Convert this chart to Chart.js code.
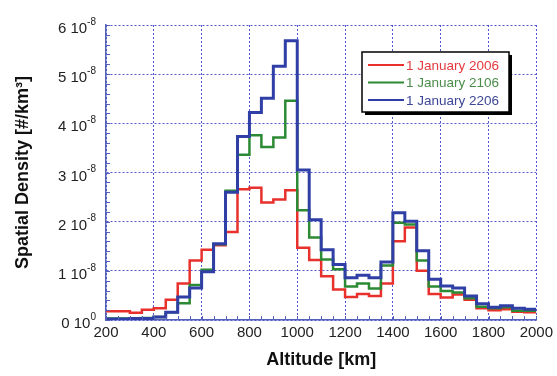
<!DOCTYPE html>
<html>
<head>
<meta charset="utf-8">
<script src="https://cdn.jsdelivr.net/npm/chart.js"></script>
<style>
  html, body { margin: 0; padding: 0; background: #fff; }
  #wrap { width: 557px; height: 376px; }
</style>
</head>
<body>
<div id="wrap"><canvas id="densityChart"></canvas></div>
<script>
// bin edges in km (left edges + final right edge)
const binEdges = [200, 250, 300, 350, 400, 450, 500, 550, 600, 650, 700, 750, 800, 850, 900, 950,
  1000, 1050, 1100, 1150, 1200, 1250, 1300, 1350, 1400, 1450, 1500, 1550, 1600, 1650, 1700,
  1750, 1800, 1850, 1900, 1950, 2000];

// spatial density per bin, in units of 1e-8 #/km^3
const density2006 = [0.18, 0.18, 0.15, 0.21, 0.24, 0.41, 0.74, 1.21, 1.43, 1.52, 1.79, 2.66, 2.69, 2.39, 2.45, 2.64,
  1.47, 1.22, 0.89, 0.62, 0.47, 0.53, 0.49, 0.74, 1.60, 1.88, 1.00, 0.53, 0.46, 0.52, 0.41,
  0.24, 0.20, 0.22, 0.17, 0.16];
const density2106 = [0.03, 0.03, 0.03, 0.04, 0.06, 0.16, 0.34, 0.71, 1.02, 1.54, 2.63, 3.36, 3.76, 3.52, 3.71, 4.46,
  2.23, 1.68, 1.23, 1.03, 0.68, 0.74, 0.64, 1.11, 1.98, 1.94, 1.21, 0.68, 0.59, 0.56, 0.44,
  0.27, 0.24, 0.26, 0.19, 0.19];
const density2206 = [0.02, 0.02, 0.03, 0.03, 0.06, 0.16, 0.47, 0.65, 0.98, 1.55, 2.60, 3.73, 4.22, 4.51, 5.16, 5.68,
  3.05, 2.04, 1.43, 1.13, 0.86, 0.91, 0.86, 1.18, 2.18, 2.01, 1.41, 0.83, 0.69, 0.65, 0.49,
  0.33, 0.26, 0.29, 0.24, 0.22];

// y tick labels: mantissa and exponent
const yTickValues = [0, 1, 2, 3, 4, 5, 6];
const yTickExp = ['0', '-8', '-8', '-8', '-8', '-8', '-8'];

const seriesNames = ['1 January 2006', '1 January 2106', '1 January 2206'];
const lineColors = ['#e8312c', '#2d8a34', '#2f3fa6'];
const textColors = ['#e23a3f', '#4a8c4a', '#3c4796'];

const axisBlue = '#5561b8';
const gridBlue = 'rgba(50, 55, 200, 0.85)';
const fontFam = '"Liberation Sans", Arial, sans-serif';

// histogram outline: each left edge carries its bin value, last edge repeats the last one
function toSteps(values) {
  return binEdges.map((x, i) => ({ x: x, y: values[Math.min(i, values.length - 1)] }));
}

// small inward ticks on the left and bottom axes + y labels with exponents
const axisExtras = {
  id: 'axisExtras',
  afterDraw(chart) {
    const { ctx, chartArea, scales } = chart;
    ctx.save();
    ctx.strokeStyle = axisBlue;
    ctx.lineWidth = 1;
    ctx.beginPath();
    for (let v = 200; v <= 2000; v += 50) {
      const px = Math.round(scales.x.getPixelForValue(v)) + 0.5;
      ctx.moveTo(px, chartArea.bottom);
      ctx.lineTo(px, chartArea.bottom - 4);
    }
    for (let k = 0; k <= 30; k++) {
      const py = Math.round(scales.y.getPixelForValue(k * 0.2)) + 0.5;
      ctx.moveTo(chartArea.left, py);
      ctx.lineTo(chartArea.left + 4, py);
    }
    ctx.stroke();

    const right = chartArea.left - 10;
    ctx.fillStyle = '#222';
    ctx.textAlign = 'right';
    ctx.textBaseline = 'middle';
    yTickValues.forEach((v, i) => {
      const py = scales.y.getPixelForValue(v);
      ctx.font = '10px ' + fontFam;
      const ew = ctx.measureText(yTickExp[i]).width;
      ctx.fillText(yTickExp[i], right, py - 3);
      ctx.font = '15px ' + fontFam;
      ctx.fillText(v + ' 10', right - ew, py + 4);
    });
    ctx.restore();
  }
};

// boxed legend with drop shadow, drawn inside the plot
const boxLegend = {
  id: 'boxLegend',
  afterDraw(chart) {
    const { ctx, chartArea } = chart;
    const x0 = chartArea.left + 256, y0 = chartArea.top + 27;
    const w = 147, h = 60;
    ctx.save();
    ctx.fillStyle = '#000';
    ctx.fillRect(x0 + 3, y0 + 3, w, h);
    ctx.fillStyle = '#fff';
    ctx.fillRect(x0, y0, w, h);
    ctx.strokeStyle = '#000';
    ctx.lineWidth = 1.5;
    ctx.strokeRect(x0, y0, w, h);
    ctx.font = '13.5px ' + fontFam;
    ctx.textBaseline = 'middle';
    seriesNames.forEach((name, i) => {
      const y = y0 + 13 + i * 17.5;
      ctx.strokeStyle = lineColors[i];
      ctx.lineWidth = 2;
      ctx.beginPath();
      ctx.moveTo(x0 + 6, y);
      ctx.lineTo(x0 + 42, y);
      ctx.stroke();
      ctx.fillStyle = textColors[i];
      ctx.fillText(name, x0 + 44, y + 1);
    });
    ctx.restore();
  }
};

const ctx = document.getElementById('densityChart').getContext('2d');

new Chart(ctx, {
  type: 'line',
  data: {
    datasets: [
      { label: seriesNames[0], data: toSteps(density2006), borderColor: lineColors[0], borderWidth: 2.5, order: 2 },
      { label: seriesNames[1], data: toSteps(density2106), borderColor: lineColors[1], borderWidth: 2.5, order: 1 },
      { label: seriesNames[2], data: toSteps(density2206), borderColor: lineColors[2], borderWidth: 3, order: 0 }
    ].map(ds => Object.assign(ds, { stepped: 'before', pointRadius: 0, fill: false, tension: 0 }))
  },
  options: {
    responsive: true,
    maintainAspectRatio: false,
    animation: false,
    layout: { padding: { top: 25, right: 17, left: 0, bottom: 0 } },
    plugins: {
      legend: { display: false },
      tooltip: { enabled: false }
    },
    scales: {
      x: {
        type: 'linear',
        min: 200,
        max: 2000,
        afterFit: s => { s.height = 56; },
        ticks: {
          stepSize: 200,
          color: '#222',
          padding: 4,
          font: { family: fontFam, size: 15 },
          maxRotation: 0,
          callback: v => String(v)
        },
        grid: { color: gridBlue, drawTicks: false, lineWidth: 1 },
        border: { color: axisBlue, width: 1.5, dash: [2, 2] },
        title: {
          display: true,
          text: 'Altitude [km]',
          color: '#111',
          font: { family: fontFam, size: 18, weight: 'bold' },
          padding: { top: 2, bottom: 5 }
        }
      },
      y: {
        min: 0,
        max: 6,
        afterFit: s => { s.width = 106; },
        ticks: { stepSize: 1, display: false },
        grid: { color: gridBlue, drawTicks: false, lineWidth: 1 },
        border: { color: axisBlue, width: 1.5, dash: [2, 2] },
        title: {
          display: true,
          text: 'Spatial Density [#/km³]',
          color: '#111',
          font: { family: fontFam, size: 18, weight: 'bold' },
          padding: { top: 12, bottom: 2 }
        }
      }
    }
  },
  plugins: [axisExtras, boxLegend]
});
</script>
</body>
</html>
